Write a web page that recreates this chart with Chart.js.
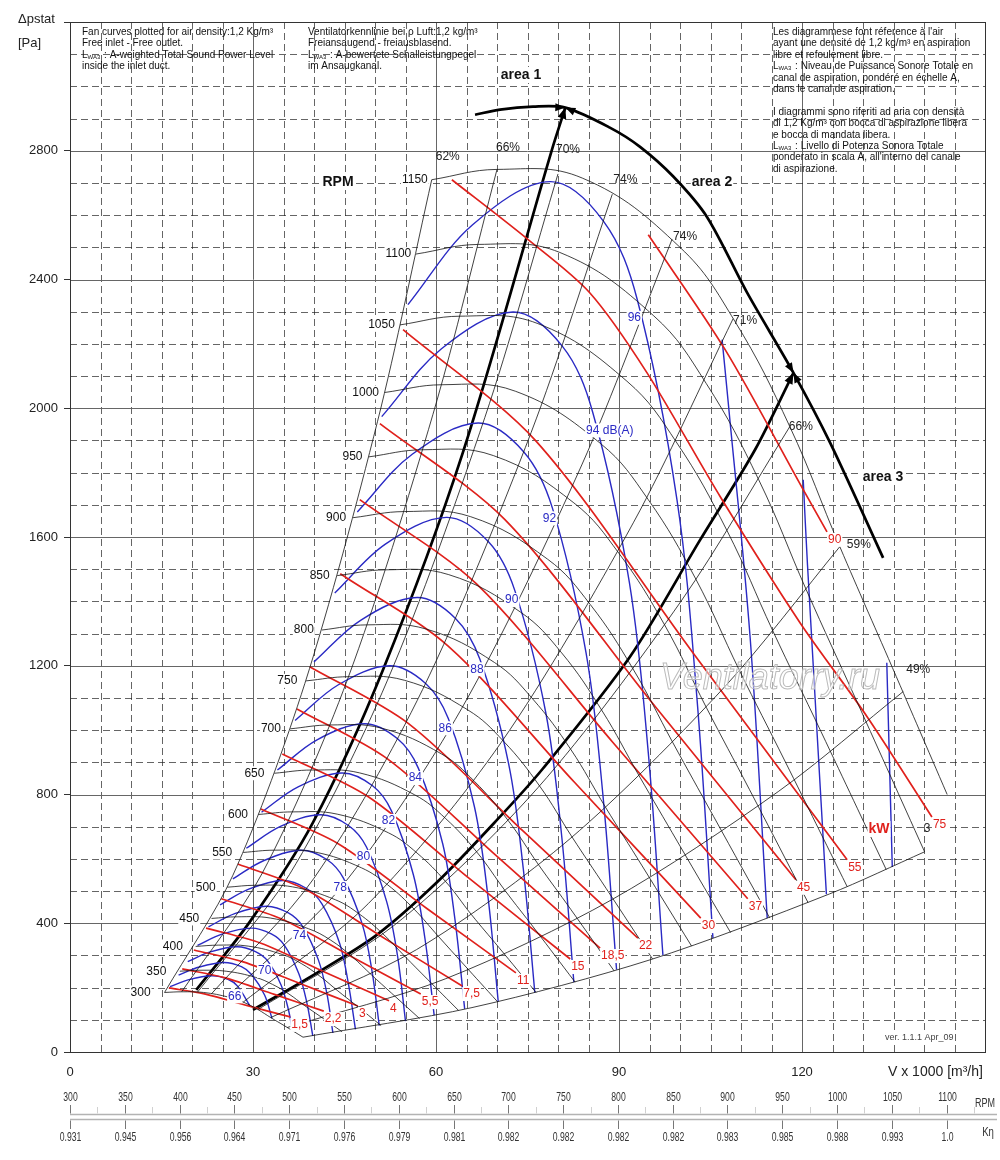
<!DOCTYPE html>
<html>
<head>
<meta charset="utf-8">
<title>Fan curves</title>
<script src="https://cdn.jsdelivr.net/npm/chart.js@4.4.1/dist/chart.umd.min.js"></script>
<style>
  html, body { margin: 0; padding: 0; background: #fff; }
  #wrap { width: 1000px; height: 1160px; }
</style>
</head>
<body>
<div id="wrap"><canvas id="fan" width="1000" height="1160"></canvas></div>
<script>
// flow V x 1000 m3/h on x, static pressure Pa on y
const flowMax = 150;
const pressureMax = 3200;

// speed curves
const rpmSpeeds = [300, 350, 400, 450, 500, 550, 600, 650, 700, 750, 800, 850, 900, 950, 1000, 1050, 1100, 1150];
const rpmFlow = [
  [15.5, 18.3, 21.9, 26.1, 28.4, 30.8, 32.9, 35.2, 38.2],
  [18.0, 21.3, 25.6, 30.4, 33.2, 35.9, 38.4, 41.0, 44.6],
  [20.6, 24.3, 29.2, 34.8, 37.9, 41.0, 43.9, 46.9, 51.0],
  [23.2, 27.4, 32.9, 39.1, 42.7, 46.2, 49.4, 52.7, 57.3],
  [25.8, 30.4, 36.5, 43.5, 47.4, 51.3, 54.9, 58.6, 63.7],
  [28.4, 33.5, 40.2, 47.8, 52.1, 56.4, 60.4, 64.5, 70.1],
  [30.9, 36.5, 43.8, 52.2, 56.9, 61.6, 65.8, 70.3, 76.4],
  [33.5, 39.6, 47.5, 56.5, 61.6, 66.7, 71.3, 76.2, 82.8],
  [36.1, 42.6, 51.1, 60.9, 66.3, 71.8, 76.8, 82.1, 89.2],
  [38.7, 45.7, 54.8, 65.2, 71.1, 77.0, 82.3, 87.9, 95.5],
  [41.3, 48.7, 58.4, 69.6, 75.8, 82.1, 87.8, 93.8, 101.9],
  [43.8, 51.7, 62.1, 73.9, 80.6, 87.2, 93.3, 99.6, 108.3],
  [46.4, 54.8, 65.7, 78.3, 85.3, 92.3, 98.8, 105.5, 114.7],
  [49.0, 57.8, 69.4, 82.6, 90.0, 97.5, 104.3, 111.4, 121.0],
  [51.6, 60.9, 73.0, 87.0, 94.8, 102.6, 109.7, 117.2, 127.4],
  [54.1, 63.9, 76.7, 91.3, 99.5, 107.7, 115.2, 123.1, 133.8],
  [56.7, 67.0, 80.3, 95.7, 104.3, 112.9, 120.7, 128.9, 140.1],
  [59.3, 70.0, 84.0, 100.0, 109.0, 118.0, 126.2, 134.8, 143.8]
];
const rpmPressure = [
  [185, 187, 185, 170, 155, 132, 107, 81, 46],
  [251, 254, 251, 232, 210, 180, 145, 111, 63],
  [328, 332, 329, 303, 275, 235, 190, 145, 82],
  [415, 420, 416, 383, 348, 297, 240, 183, 104],
  [512, 518, 513, 473, 429, 367, 297, 226, 129],
  [620, 627, 621, 572, 519, 444, 359, 273, 156],
  [738, 746, 739, 681, 618, 529, 427, 325, 185],
  [866, 876, 867, 799, 725, 621, 502, 382, 217],
  [1004, 1016, 1006, 926, 841, 720, 582, 443, 252],
  [1153, 1166, 1155, 1063, 965, 826, 668, 508, 289],
  [1311, 1327, 1314, 1210, 1098, 940, 760, 578, 329],
  [1480, 1498, 1483, 1366, 1240, 1061, 858, 653, 371],
  [1660, 1679, 1663, 1531, 1390, 1190, 962, 732, 417],
  [1849, 1871, 1853, 1706, 1549, 1326, 1071, 815, 464],
  [2049, 2073, 2053, 1890, 1716, 1469, 1187, 904, 514],
  [2259, 2286, 2263, 2084, 1892, 1620, 1309, 996, 567],
  [2479, 2509, 2484, 2287, 2077, 1778, 1436, 1093, 622],
  [2710, 2742, 2715, 2500, 2270, 1943, 1570, 1195, 800]
];

// efficiency lines, last one is the lower limit
const effLabels = ['62%', '66%', '70%', '74%', '74%', '71%', '66%', '59%', '49%', ''];
const effFlow = [
  [15.5, 26.7, 38.5, 50.4, 59.3],
  [18.3, 31.5, 45.5, 59.5, 70.0],
  [20.9, 36.0, 52.0, 68.0, 80.0],
  [23.2, 40.0, 57.8, 75.6, 88.9],
  [25.8, 44.4, 64.2, 83.9, 98.7],
  [28.4, 48.9, 70.7, 92.4, 108.7],
  [30.8, 53.1, 76.7, 100.3, 118.0],
  [32.9, 56.8, 82.0, 107.3, 126.2],
  [35.6, 61.5, 88.8, 116.1, 136.6],
  [38.2, 65.9, 95.2, 124.5, 140.1]
];
const effPressure = [
  [185, 549, 1145, 1958, 2710],
  [187, 555, 1158, 1981, 2742],
  [186, 552, 1153, 1971, 2728],
  [181, 540, 1126, 1925, 2665],
  [172, 511, 1067, 1824, 2525],
  [155, 461, 962, 1646, 2278],
  [132, 393, 821, 1404, 1943],
  [107, 318, 663, 1134, 1570],
  [76, 227, 473, 809, 1120],
  [46, 138, 287, 491, 622]
];

// shaft power lines, kW
const powerLabels = ['1,5', '2,2', '3', '4', '5,5', '7,5', '11', '15', '18,5', '22', '30', '37', '45', '55', '75', '90'];
const powerFlow = [
  [16.2, 22.2, 29.1, 36.1],
  [18.4, 25.3, 33.5, 41.6],
  [20.3, 28.4, 37.8, 47.2],
  [22.3, 31.3, 41.8, 52.3],
  [24.8, 34.6, 46.1, 57.5],
  [27.5, 38.6, 51.4, 64.3],
  [31.3, 43.9, 58.5, 73.1],
  [34.8, 48.9, 65.4, 82.0],
  [37.2, 52.1, 69.5, 86.9],
  [39.3, 55.5, 74.3, 93.1],
  [44.3, 62.0, 82.7, 103.4],
  [47.5, 66.6, 88.9, 111.1],
  [50.8, 71.3, 95.1, 119.0],
  [54.6, 76.4, 101.9, 127.4],
  [62.6, 75.1, 85.2, 94.6, 106.6, 119.7, 130.7, 141.3],
  [94.8, 107.4, 120.5, 124.1]
];
const powerPressure = [
  [199, 180, 144, 109],
  [258, 231, 179, 127],
  [317, 280, 212, 143],
  [385, 338, 248, 159],
  [476, 414, 297, 180],
  [584, 505, 355, 205],
  [755, 648, 446, 246],
  [926, 793, 540, 289],
  [1066, 910, 616, 323],
  [1197, 1020, 686, 354],
  [1486, 1261, 838, 416],
  [1716, 1455, 964, 476],
  [1952, 1654, 1093, 535],
  [2244, 1898, 1246, 597],
  [2710, 2524, 2359, 2110, 1725, 1333, 1041, 730],
  [2539, 2182, 1737, 1616]
];

// sound power level lines, dB(A)
const soundLevels = [66, 68, 70, 72, 74, 76, 78, 80, 82, 84, 86, 88, 90, 92, 94, 96, 98, 100, 102];
const soundLabels = ['66', '', '70', '', '74', '', '78', '80', '82', '84', '86', '88', '90', '92', '94 dB(A)', '96', '', '', ''];
const soundFlow = [
  [16.4, 19.5, 23.3, 25.9, 27.5, 29.5],
  [17.8, 21.2, 25.2, 28.1, 29.8, 31.9, 33.1],
  [19.3, 23.0, 27.4, 30.4, 32.4, 34.6, 35.8, 36.45],
  [20.9, 24.9, 29.7, 33.0, 35.1, 37.5, 38.8, 39.8],
  [22.7, 27.0, 32.2, 35.8, 38.1, 40.7, 42.1, 43.1],
  [24.6, 29.3, 34.9, 38.8, 41.3, 44.2, 45.6, 46.8],
  [26.7, 31.8, 37.9, 42.1, 44.8, 47.9, 49.5, 50.7],
  [28.9, 34.5, 41.1, 45.7, 48.6, 51.9, 53.7, 55.0],
  [31.4, 37.4, 44.6, 49.6, 52.7, 56.3, 58.2, 59.7],
  [34.0, 40.5, 48.3, 53.7, 57.1, 61.1, 63.1, 64.7],
  [36.9, 44.0, 52.4, 58.3, 62.0, 66.3, 68.5, 70.2],
  [40.0, 47.7, 56.9, 63.2, 67.2, 71.9, 74.3, 76.2],
  [43.4, 51.7, 61.7, 68.6, 72.9, 78.0, 80.6, 82.6],
  [47.1, 56.1, 66.9, 74.4, 79.1, 84.6, 87.4, 89.6],
  [51.1, 60.9, 72.6, 80.7, 85.7, 91.7, 94.8, 97.2],
  [55.4, 66.0, 78.7, 87.5, 93.0, 99.5, 102.8, 105.4],
  [106.9, 107.9, 111.5, 114.3],
  [120.2, 120.9, 124.0],
  [133.9, 134.8]
];
const soundPressure = [
  [203, 225, 237, 226, 204, 143],
  [239, 264, 278, 265, 240, 177, 105],
  [281, 311, 327, 312, 283, 208, 132, 67],
  [331, 366, 385, 367, 333, 244, 156, 50],
  [389, 430, 453, 432, 391, 287, 183, 59],
  [457, 506, 533, 508, 460, 338, 216, 70],
  [538, 595, 627, 598, 541, 398, 253, 82],
  [633, 701, 737, 703, 637, 468, 298, 96],
  [745, 824, 867, 827, 749, 550, 351, 114],
  [876, 970, 1020, 973, 882, 647, 413, 134],
  [1030, 1141, 1200, 1145, 1037, 762, 486, 157],
  [1212, 1342, 1412, 1347, 1220, 896, 571, 185],
  [1426, 1578, 1661, 1585, 1435, 1054, 672, 217],
  [1678, 1857, 1954, 1864, 1689, 1240, 791, 256],
  [1974, 2185, 2299, 2193, 1987, 1459, 930, 301],
  [2322, 2570, 2704, 2580, 2337, 1716, 1094, 354],
  [2213, 2019, 1287, 416],
  [1778, 1514, 490],
  [1209, 575]
];

// working areas
const area1Flow = [20.7, 29.5, 39.8, 51.3, 64.4, 79.0, 81.2];
const area1Pressure = [193, 405, 712, 1187, 1862, 2803, 2934];
const area2Flow = [66.4, 70.5, 75.9, 81.2, 88.5, 93.4, 98.9, 104.4, 111.0, 118.6, 124.6, 133.3];
const area2Pressure = [2912, 2928, 2937, 2934, 2872, 2813, 2720, 2595, 2359, 2110, 1893, 1535];
const area3Flow = [30.0, 40.5, 50.3, 60.2, 70.0, 77.5, 91.8, 103.3, 112.3, 118.6];
const area3Pressure = [131, 246, 364, 528, 721, 880, 1228, 1591, 1871, 2110];

// speed / efficiency correction strip under the chart
const rpmAxisTicks = [300, 350, 400, 450, 500, 550, 600, 650, 700, 750, 800, 850, 900, 950, 1000, 1050, 1100];
const etaTicks = ['0.931', '0.945', '0.956', '0.964', '0.971', '0.976', '0.979', '0.981', '0.982', '0.982', '0.982', '0.982', '0.983', '0.985', '0.988', '0.993', '1.0'];

const RED = '#e0211c';
const BLUE = '#2a2ac4';
const FONT = '"Liberation Sans", Arial, Helvetica, sans-serif';

function pts(xs, ys) {
  return xs.map(function(v, i) { return { x: v, y: ys[i] }; });
}

function curve(xs, ys, color, width, tension) {
  return {
    data: pts(xs, ys),
    borderColor: color,
    borderWidth: width,
    tension: tension,
    pointRadius: 0,
    fill: false
  };
}

var datasets = [];
for (var i = 0; i < rpmSpeeds.length; i++) datasets.push(curve(rpmFlow[i], rpmPressure[i], '#111', 0.8, 0.4));
for (var i = 0; i < effFlow.length; i++) datasets.push(curve(effFlow[i], effPressure[i], '#111', 0.8, 0.3));
for (var i = 0; i < powerLabels.length; i++) datasets.push(curve(powerFlow[i], powerPressure[i], RED, 1.7, 0.3));
for (var i = 0; i < soundLevels.length; i++) datasets.push(curve(soundFlow[i], soundPressure[i], BLUE, 1.4, 0.35));
datasets.push(curve(area1Flow, area1Pressure, '#000', 2.7, 0.3));
datasets.push(curve(area2Flow, area2Pressure, '#000', 2.7, 0.3));
datasets.push(curve(area3Flow, area3Pressure, '#000', 2.7, 0.3));

function text(ctx, str, x, y, o) {
  o = o || {};
  ctx.font = (o.weight || '') + ' ' + (o.size || 12) + 'px ' + FONT;
  ctx.textAlign = o.align || 'center';
  ctx.textBaseline = 'middle';
  if (o.bg) {
    var w = ctx.measureText(str).width;
    var left = o.align === 'left' ? x : (o.align === 'right' ? x - w : x - w / 2);
    ctx.fillStyle = '#fff';
    ctx.fillRect(left - 1, y - (o.size || 12) / 2 - 1, w + 2, (o.size || 12) + 2);
  }
  ctx.fillStyle = o.color || '#111';
  ctx.fillText(str, x, y);
}

// L with subscript WA3, then the rest of the line
function lwaLine(ctx, rest, x, y) {
  ctx.textAlign = 'left';
  ctx.textBaseline = 'middle';
  ctx.fillStyle = '#111';
  ctx.font = '10px ' + FONT;
  ctx.fillText('L', x, y);
  var w = ctx.measureText('L').width;
  ctx.font = '6px ' + FONT;
  ctx.fillText('WA3', x + w, y + 2);
  var w2 = ctx.measureText('WA3').width;
  ctx.font = '10px ' + FONT;
  ctx.fillText(rest, x + w + w2 + 1, y);
}

function arrow(ctx, tip, from, size) {
  var a = Math.atan2(tip.y - from.y, tip.x - from.x);
  ctx.beginPath();
  ctx.moveTo(tip.x, tip.y);
  ctx.lineTo(tip.x - size * Math.cos(a) + size * 0.4 * Math.sin(a), tip.y - size * Math.sin(a) - size * 0.4 * Math.cos(a));
  ctx.lineTo(tip.x - size * Math.cos(a) - size * 0.4 * Math.sin(a), tip.y - size * Math.sin(a) + size * 0.4 * Math.cos(a));
  ctx.closePath();
  ctx.fill();
}

const fanGrid = {
  id: 'fanGrid',
  beforeDatasetsDraw: function(chart) {
    var ctx = chart.ctx, a = chart.chartArea, x = chart.scales.x, y = chart.scales.y;
    ctx.save();
    for (var v = 5; v < flowMax; v += 5) {
      var px = Math.round(x.getPixelForValue(v)) + 0.5;
      var major = v % 30 === 0;
      ctx.beginPath();
      ctx.setLineDash(major ? [] : [7, 4]);
      ctx.strokeStyle = major ? '#666' : '#222';
      ctx.lineWidth = major ? 1 : 0.7;
      ctx.moveTo(px, a.top);
      ctx.lineTo(px, a.bottom);
      ctx.stroke();
    }
    for (var p = 100; p < pressureMax; p += 100) {
      var py = Math.round(y.getPixelForValue(p)) + 0.5;
      var majorY = p % 400 === 0;
      ctx.beginPath();
      ctx.setLineDash(majorY ? [] : [7, 4]);
      ctx.strokeStyle = majorY ? '#666' : '#222';
      ctx.lineWidth = majorY ? 1 : 0.7;
      ctx.moveTo(a.left, py);
      ctx.lineTo(a.right, py);
      ctx.stroke();
    }
    ctx.setLineDash([]);
    ctx.strokeStyle = '#333';
    ctx.lineWidth = 1;
    ctx.strokeRect(Math.round(a.left) + 0.5, Math.round(a.top) + 0.5, Math.round(a.right - a.left), Math.round(a.bottom - a.top));
    ctx.restore();
  }
};

const fanText = {
  id: 'fanText',
  afterDatasetsDraw: function(chart) {
    var ctx = chart.ctx, x = chart.scales.x, y = chart.scales.y, r = chart.scales.rpm;
    var a = chart.chartArea;
    function X(v) { return x.getPixelForValue(v); }
    function Y(v) { return y.getPixelForValue(v); }
    ctx.save();

    // watermark
    ctx.font = 'italic 36px ' + FONT;
    ctx.textAlign = 'center';
    ctx.textBaseline = 'middle';
    ctx.fillStyle = 'rgba(255,255,255,0.45)';
    ctx.fillText('Ventilatorry.ru', 770, 679);
    ctx.strokeStyle = '#bbbbbb';
    ctx.lineWidth = 1;
    ctx.strokeText('Ventilatorry.ru', 770, 679);

    // arrowheads where the areas meet
    ctx.fillStyle = '#000';
    var n1 = area1Flow.length - 1;
    arrow(ctx, { x: X(area1Flow[n1]), y: Y(area1Pressure[n1]) }, { x: X(area1Flow[n1 - 1]), y: Y(area1Pressure[n1 - 1]) }, 11);
    var n3 = area3Flow.length - 1;
    arrow(ctx, { x: X(area3Flow[n3]), y: Y(area3Pressure[n3]) }, { x: X(area3Flow[n3 - 1]), y: Y(area3Pressure[n3 - 1]) }, 11);
    [3, 9].forEach(function(k) {
      var tip = { x: X(area2Flow[k]), y: Y(area2Pressure[k]) };
      arrow(ctx, tip, { x: X(area2Flow[k - 1]), y: Y(area2Pressure[k - 1]) }, 10);
      arrow(ctx, tip, { x: X(area2Flow[k + 1]), y: Y(area2Pressure[k + 1]) }, 10);
    });

    // speed labels at the left end of each curve
    rpmSpeeds.forEach(function(n, i) {
      var sx = X(rpmFlow[i][0]) - 4 - 10 * (1150 - n) / 850;
      text(ctx, String(n), sx, Y(rpmPressure[i][0]), { align: 'right', bg: true, size: 12 });
    });

    // efficiency labels near the top of each line
    var effShift = [[16, -23], [11, -22], [10, -24], [13, -15], [13, -3], [12, 2], [11, 0], [19, -2], [15, -22]];
    effLabels.forEach(function(t, i) {
      if (!t) return;
      var k = effFlow[i].length - 1;
      text(ctx, t, X(effFlow[i][k]) + effShift[i][0], Y(effPressure[i][k]) + effShift[i][1], { size: 12, color: '#222' });
    });

    // power labels at the lower end of each red line
    powerLabels.forEach(function(t, i) {
      var k = powerFlow[i].length - 1;
      text(ctx, t, X(powerFlow[i][k]) + 1, Y(powerPressure[i][k]) + 8, { align: 'left', size: 12, color: RED, bg: true });
    });

    // sound labels on the falling side of each blue line
    soundLabels.forEach(function(t, i) {
      if (!t) return;
      var lx = X(soundFlow[i][4]) - 3, ly = Y(soundPressure[i][4]) + 10;
      if (t.length > 3) { lx += 20; ly += 8; }
      if (soundLevels[i] === 96) ly += 8;
      text(ctx, t, lx, ly, { size: 12, color: BLUE, bg: true });
    });

    text(ctx, 'RPM', 338, 182, { size: 14, weight: 'bold', bg: true });
    text(ctx, 'area 1', 521, 75, { size: 14, weight: 'bold', bg: true });
    text(ctx, 'area 2', 712, 182, { size: 14, weight: 'bold', bg: true });
    text(ctx, 'area 3', 883, 477, { size: 14, weight: 'bold', bg: true });
    text(ctx, 'kW', 879, 829, { size: 14, weight: 'bold', color: RED, bg: true });
    text(ctx, '3', 927, 829, { size: 12, color: '#222' });

    // notes in three languages
    ctx.fillStyle = '#111';
    ctx.font = '10px ' + FONT;
    ctx.textAlign = 'left';
    ctx.textBaseline = 'middle';
    ctx.fillText('Fan curves plotted for air density:1,2 Kg/m³', 82, 32);
    ctx.fillText('Free inlet - Free outlet.', 82, 43.5);
    lwaLine(ctx, ' : A-weighted Total Sound Power Level', 82, 55);
    ctx.font = '10px ' + FONT;
    ctx.fillText('inside the inlet duct.', 82, 66.5);

    ctx.fillText('Ventilatorkennlinie bei ρ Luft:1,2 kg/m³', 308, 32);
    ctx.fillText('Freiansaugend - freiausblasend.', 308, 43.5);
    lwaLine(ctx, ' : A-bewertete Schalleistungpegel', 308, 55);
    ctx.font = '10px ' + FONT;
    ctx.fillText('im Ansaugkanal.', 308, 66.5);

    var fr = [
      'Les diagrammese font réference à l\'air',
      'ayant une densité de 1,2 kg/m³ en aspiration',
      'libre et refoulement libre.',
      'L : Niveau de Puissance Sonore Totale en',
      'canal de aspiration, pondéré en échelle A,',
      'dans le canal de aspiration.',
      '',
      'I diagrammi sono riferiti ad aria con densità',
      'di 1,2 Kg/m³ con bocca di aspirazione libera',
      'e bocca di mandata libera.',
      'L : Livello di Potenza Sonora Totale',
      'ponderato in scala A, all\'interno del canale',
      'di aspirazione.'
    ];
    fr.forEach(function(line, k) {
      var ly = 32.3 + k * 11.4;
      if (line.indexOf('L : ') === 0) {
        lwaLine(ctx, line.slice(1), 773, ly);
      } else {
        ctx.font = '10px ' + FONT;
        ctx.fillStyle = '#111';
        ctx.textAlign = 'left';
        ctx.fillText(line, 773, ly);
      }
    });

    // axis titles
    text(ctx, 'Δpstat', 18, 19, { align: 'left', size: 13, color: '#222' });
    text(ctx, '[Pa]', 18, 43, { align: 'left', size: 13, color: '#222' });
    text(ctx, 'V x 1000 [m³/h]', 888, 1072, { align: 'left', size: 14, color: '#222' });
    text(ctx, 'ver. 1.1.1 Apr_09', 885, 1038, { align: 'left', size: 9, color: '#444', bg: true });

    // rpm and efficiency factor strip
    ctx.strokeStyle = '#b3b3b3';
    ctx.lineWidth = 1.6;
    ctx.beginPath();
    ctx.moveTo(a.left, 1114.5); ctx.lineTo(997, 1114.5);
    ctx.moveTo(a.left, 1119.5); ctx.lineTo(997, 1119.5);
    ctx.stroke();
    ctx.lineWidth = 1;
    for (var m = 325; m <= 1125; m += 50) {
      var mx = Math.round(r.getPixelForValue(m)) + 0.5;
      ctx.strokeStyle = '#d0d0d0';
      ctx.beginPath(); ctx.moveTo(mx, 1107); ctx.lineTo(mx, 1113.5); ctx.stroke();
    }
    rpmAxisTicks.forEach(function(n, i) {
      var tx = Math.round(r.getPixelForValue(n)) + 0.5;
      ctx.strokeStyle = '#777';
      ctx.beginPath(); ctx.moveTo(tx, 1105); ctx.lineTo(tx, 1113.5); ctx.stroke();
      ctx.beginPath(); ctx.moveTo(tx, 1120.5); ctx.lineTo(tx, 1129); ctx.stroke();
      ctx.save();
      ctx.translate(tx, 1098);
      ctx.scale(0.72, 1);
      text(ctx, String(n), 0, 0, { size: 12, color: '#333' });
      ctx.restore();
      ctx.save();
      ctx.translate(tx, 1138);
      ctx.scale(0.72, 1);
      text(ctx, etaTicks[i], 0, 0, { size: 12, color: '#333' });
      ctx.restore();
    });
    ctx.save();
    ctx.translate(985, 1104);
    ctx.scale(0.75, 1);
    text(ctx, 'RPM', 0, 0, { size: 12, color: '#333' });
    ctx.restore();
    ctx.save();
    ctx.translate(988, 1133);
    ctx.scale(0.8, 1);
    text(ctx, 'Kη', 0, 0, { size: 12, color: '#333' });
    ctx.restore();

    ctx.restore();
  }
};

new Chart(document.getElementById('fan'), {
  type: 'line',
  data: { datasets: datasets },
  options: {
    responsive: false,
    animation: false,
    devicePixelRatio: 1,
    layout: { padding: { left: 0, right: 15, top: 22, bottom: 0 } },
    plugins: { legend: { display: false }, tooltip: { enabled: false } },
    elements: { line: { capBezierPoints: true } },
    scales: {
      x: {
        type: 'linear',
        min: 0,
        max: flowMax,
        position: 'bottom',
        afterFit: function(s) { s.height = 108; },
        grid: { drawOnChartArea: false, drawTicks: false },
        border: { display: false },
        ticks: {
          stepSize: 5,
          autoSkip: false,
          maxRotation: 0,
          padding: 13,
          color: '#222',
          font: { size: 13, family: FONT },
          callback: function(v) { return (v % 30 === 0 && v < flowMax) ? String(v) : ''; }
        }
      },
      rpm: {
        type: 'linear',
        axis: 'x',
        display: false,
        position: 'bottom',
        min: 300,
        max: 1135
      },
      y: {
        type: 'linear',
        min: 0,
        max: pressureMax,
        afterFit: function(s) { s.width = 70; },
        grid: {
          drawOnChartArea: false,
          drawTicks: true,
          tickLength: 6,
          tickColor: function(c) { return (c.tick && c.tick.value % 400 === 0) ? '#333' : 'rgba(0,0,0,0)'; }
        },
        border: { display: false },
        ticks: {
          stepSize: 100,
          autoSkip: false,
          padding: 6,
          color: '#222',
          font: { size: 13, family: FONT },
          callback: function(v) { return (v % 400 === 0 && v < pressureMax) ? String(v) : ''; }
        }
      }
    }
  },
  plugins: [fanGrid, fanText]
});
</script>
</body>
</html>
